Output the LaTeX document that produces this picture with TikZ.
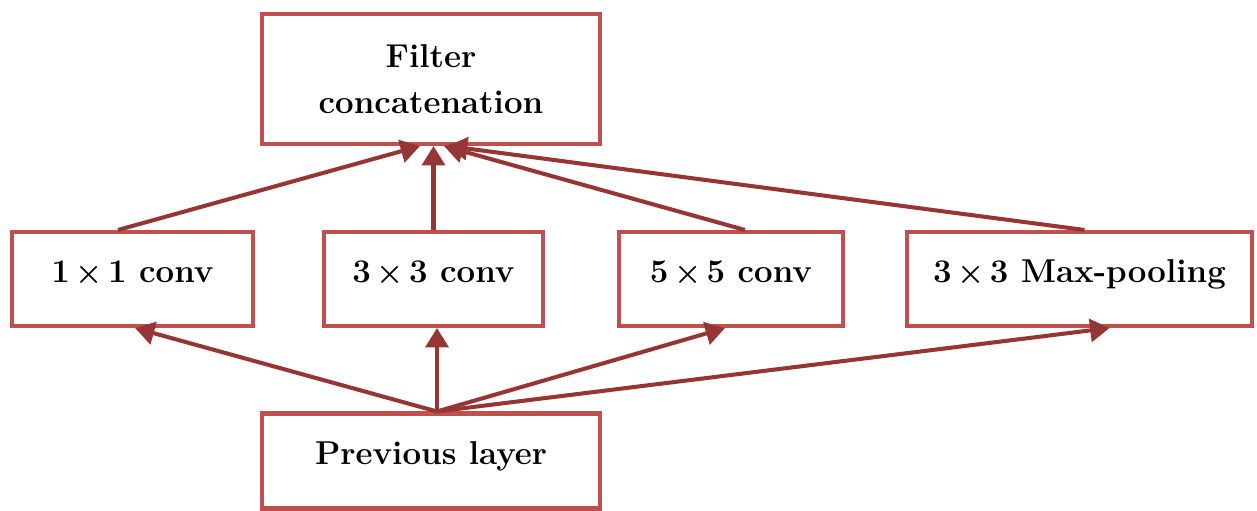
\documentclass[tikz,border=0pt]{standalone}
\usetikzlibrary{arrows.meta,calc}
\definecolor{boxred}{RGB}{192,80,77}
\definecolor{arrowred}{RGB}{150,54,52}
\newcommand{\by}{\,{\boldmath$\times$}\,}
\begin{document}
\begin{tikzpicture}[
  blk/.style={draw=boxred, line width=2.3pt, fill=white, inner sep=0pt,
              align=center, font=\fontsize{18.8}{26}\selectfont\bfseries},
  conn/.style={draw=arrowred, line width=2.3pt,
               -{Triangle[length=11pt,width=13pt]}}
]
\useasboundingbox (0,0) rectangle (25.14,-10.22);

% boxes
\node[blk, minimum width=6.76cm, minimum height=2.6cm]  (filt) at (8.62,-1.58) {Filter\\concatenation};
\node[blk, minimum width=4.82cm, minimum height=1.88cm, text depth=0.3cm] (c1) at (2.65,-5.58) {1\by1 conv};
\node[blk, minimum width=4.38cm, minimum height=1.88cm, text depth=0.3cm] (c3) at (8.67,-5.58) {3\by3 conv};
\node[blk, minimum width=4.48cm, minimum height=1.88cm, text depth=0.3cm] (c5) at (14.62,-5.58) {5\by5 conv};
\node[blk, minimum width=6.90cm, minimum height=1.88cm, text depth=0.3cm] (mp) at (21.59,-5.58) {3\by3 Max-pooling};
\node[blk, minimum width=6.76cm, minimum height=1.90cm, text depth=0.3cm] (prev) at (8.62,-9.22) {Previous layer};

% branches merging into the concatenation
\draw[conn] ([xshift=-0.29cm]c1.north) -- ([xshift=-0.22cm]filt.south);
\draw[conn] (c3.north) -- (c3.north |- filt.south);
\draw[conn] ([xshift=0.28cm]c5.north) -- ([xshift=0.26cm]filt.south);
\draw[conn] ([xshift=0.1cm]mp.north) -- ([xshift=0.34cm]filt.south);

% previous layer feeding every branch
\coordinate (src) at ([xshift=0.12cm]prev.north);
\draw[conn] (src) -- ([xshift=0.05cm]c1.south);
\draw[conn] (src) -- (src |- c3.south);
\draw[conn] (src) -- ([xshift=-0.12cm]c5.south);
\draw[conn] (src) -- ([xshift=0.6cm]mp.south);
\end{tikzpicture}
\end{document}
